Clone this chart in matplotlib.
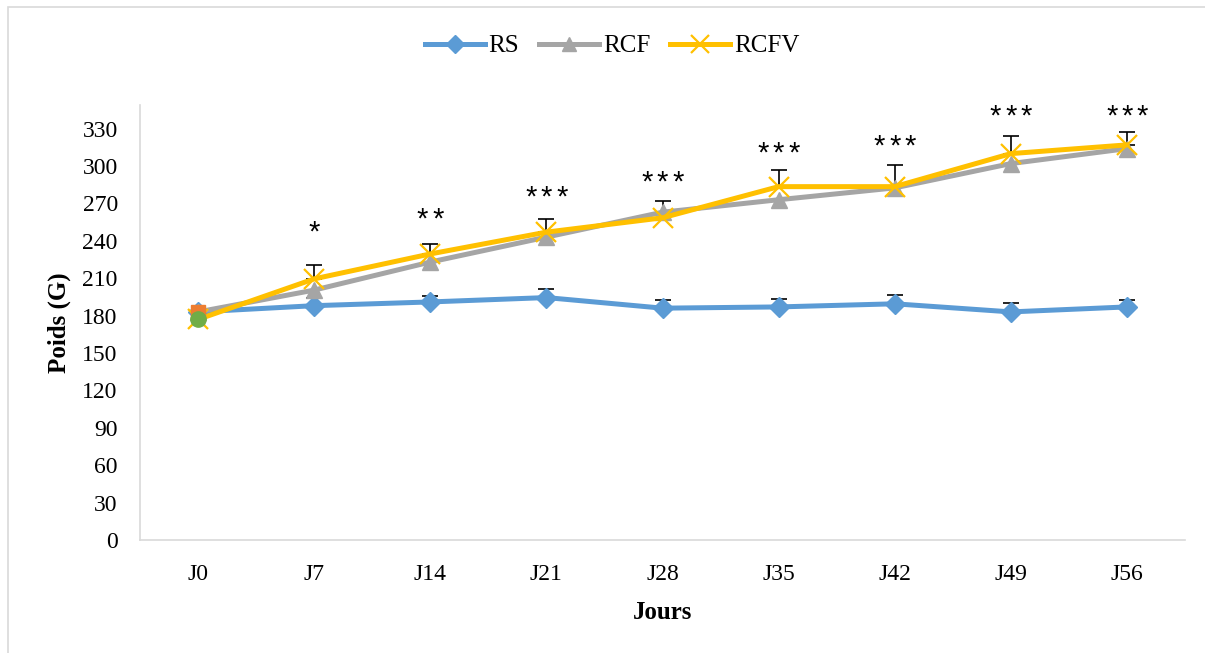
import matplotlib
matplotlib.use("Agg")
import matplotlib.pyplot as plt
from matplotlib.patches import Rectangle

# weekly body weight (g) per diet group
jours = ["J0", "J7", "J14", "J21", "J28", "J35", "J42", "J49", "J56"]
rs = [183, 188, 191, 194.5, 186, 187, 189.5, 183, 187]
rcf = [183, 200.5, 223, 243, 263, 273, 282.5, 302, 314]
rcfv = [177, 209.5, 229.5, 247, 258.5, 283.5, 283.5, 310, 317]

# upper error bars (SEM)
rs_err = [0, 6, 5, 6.5, 6.5, 6, 7, 7, 5.5]
rcf_err = [0, 0, 0, 0, 9, 0, 0, 0, 0]
rcfv_err = [0, 11, 8, 10.5, 0, 13, 17, 14, 10]

# significance marks and their heights
stars = ["", "*", "**", "***", "***", "***", "***", "***", "***"]
star_y = [0, 247, 257, 275, 287, 310, 315.5, 340, 340]

# extra J0 points
j0_square = 183
j0_circle = 177.5

serif = "Liberation Serif"
plt.rcParams["font.family"] = [serif, "DejaVu Serif"]

fig = plt.figure(figsize=(12.05, 6.53), dpi=100)
ax = fig.add_axes([140 / 1205, 1 - 540 / 653, 1045 / 1205, 435 / 653])

x = list(range(len(jours)))
blue, grey, gold = "#5B9BD5", "#A5A5A5", "#FFC000"

ax.plot(x, rs, color=blue, lw=3.6, marker="D", ms=10, label="RS", zorder=3)
ax.plot(x, rcf, color=grey, lw=3.6, marker="^", ms=11, label="RCF", zorder=4)
ax.plot(x, rcfv, color=gold, lw=3.6, marker="x", ms=14, mew=1.6,
        label="RCFV", zorder=5)

for vals, errs in [(rs, rs_err), (rcf, rcf_err), (rcfv, rcfv_err)]:
    for xi, v, e in zip(x, vals, errs):
        if e > 0:
            ax.errorbar(xi, v, yerr=[[0], [e]], fmt="none", ecolor="black",
                        elinewidth=1.2, capsize=6, capthick=1.2, zorder=2)

ax.plot(0, j0_square, marker="s", color="#ED7D31", ms=10, ls="none", zorder=6)
ax.plot(0, j0_circle, marker="o", color="#70AD47", ms=11, ls="none", zorder=7)

# each asterisk placed separately so the spacing stays tight
for xi, s, sy in zip(x, stars, star_y):
    n = len(s)
    for k in range(n):
        ax.annotate("*", (xi, sy), xytext=((k - (n - 1) / 2) * 11, 0),
                    textcoords="offset points", ha="center", va="center",
                    fontsize=21, family="Liberation Sans", color="black")

ax.set_xlim(-0.5, len(jours) - 0.5)
ax.set_ylim(0, 349)
ax.set_yticks(range(0, 331, 30))
ax.set_xticks(x)
ax.set_xticklabels(jours)
ax.tick_params(length=0, labelsize=17, pad=17)
ax.tick_params(axis="y", pad=16)

for side in ["top", "right"]:
    ax.spines[side].set_visible(False)
for side in ["left", "bottom"]:
    ax.spines[side].set_color("#d9d9d9")
    ax.spines[side].set_linewidth(1.2)

ax.set_ylabel("Poids (G)", fontsize=18, fontweight="bold", labelpad=8)
ax.set_xlabel("Jours", fontsize=18, fontweight="bold", labelpad=12)

leg = fig.legend(loc="center", bbox_to_anchor=(0.508, 1 - 46 / 653), ncol=3,
                 frameon=False, fontsize=18, handlelength=2.4,
                 columnspacing=0.8, handletextpad=0.15, markerscale=0.9)

fig.patches.append(Rectangle((8 / 1205, -0.1), 1.2, 1 - 7 / 653 + 0.1,
                             transform=fig.transFigure, fill=False,
                             edgecolor="#d9d9d9", lw=1.2))

fig.savefig("out.png", dpi=100)
